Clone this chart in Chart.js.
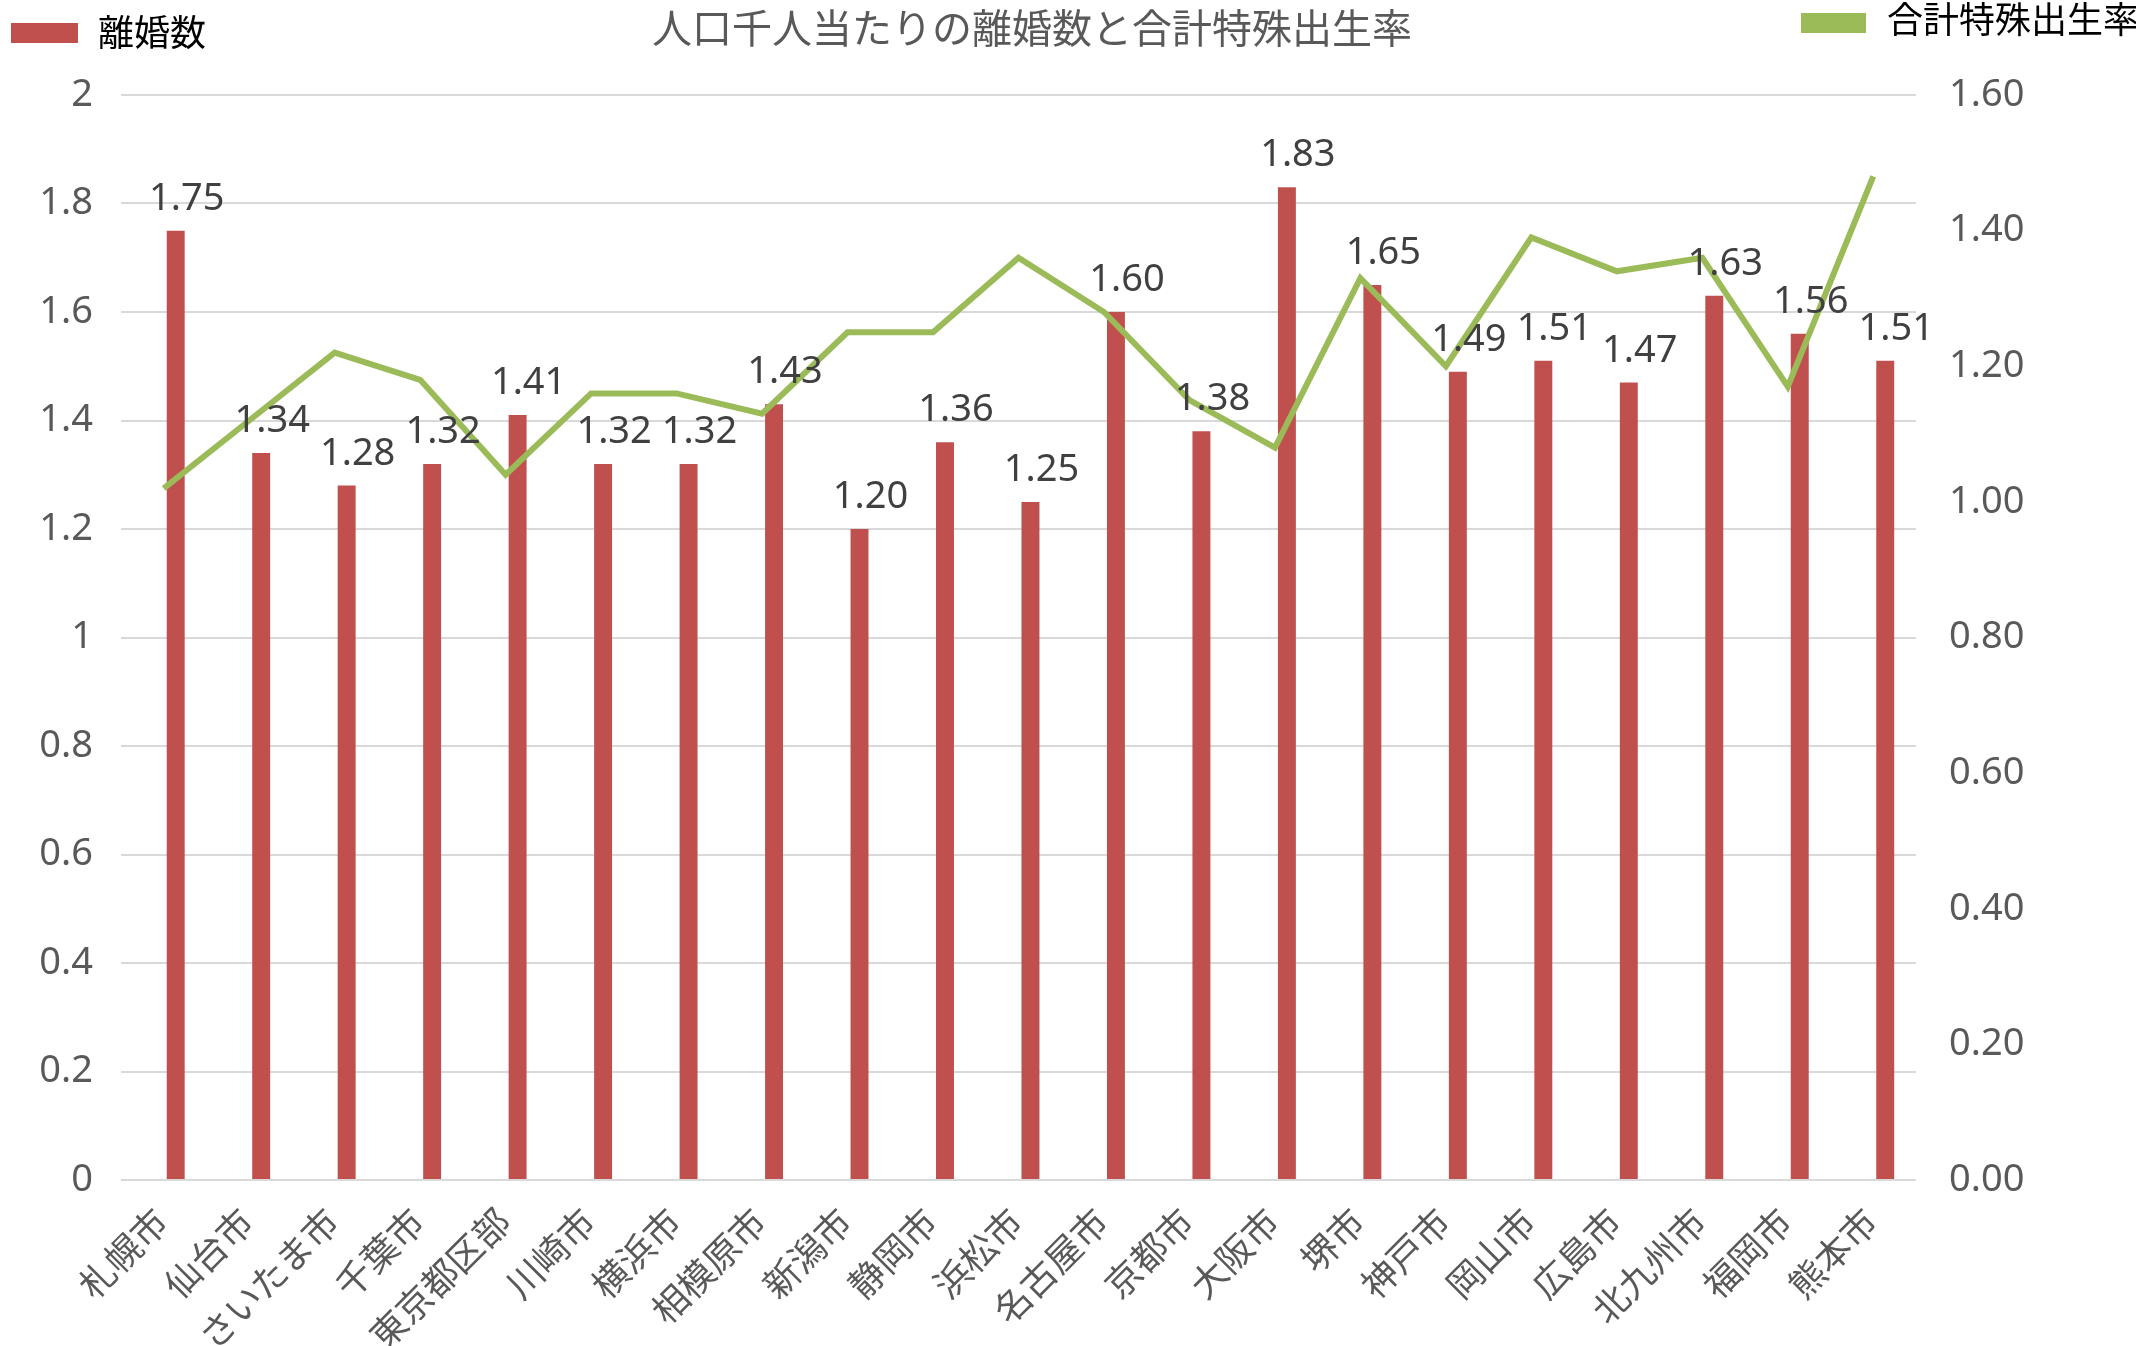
<!DOCTYPE html>
<html lang="ja">
<head>
<meta charset="utf-8">
<title>人口千人当たりの離婚数と合計特殊出生率</title>
<script src="https://cdn.jsdelivr.net/npm/chart.js@4/dist/chart.umd.min.js"></script>
<style>
  html, body { margin: 0; padding: 0; background: #fff; }
  #wrap { width: 2136px; height: 1346px; }
</style>
</head>
<body>
<div id="wrap"><canvas id="c" width="2136" height="1346"></canvas></div>
<script>
const cities = ["札幌市", "仙台市", "さいたま市", "千葉市", "東京都区部", "川崎市", "横浜市", "相模原市", "新潟市", "静岡市", "浜松市",
  "名古屋市", "京都市", "大阪市", "堺市", "神戸市", "岡山市", "広島市", "北九州市", "福岡市", "熊本市"];
const divorces = [1.75, 1.34, 1.28, 1.32, 1.41, 1.32, 1.32, 1.43, 1.20, 1.36, 1.25,
  1.60, 1.38, 1.83, 1.65, 1.49, 1.51, 1.47, 1.63, 1.56, 1.51];
const fertility = [1.02, 1.12, 1.22, 1.18, 1.04, 1.16, 1.16, 1.13, 1.25, 1.25, 1.36,
  1.28, 1.15, 1.08, 1.33, 1.20, 1.39, 1.34, 1.36, 1.17, 1.48];
const leftTicks = { min: 0, max: 2, step: 0.2 };
const rightTicks = { min: 0, max: 1.6, step: 0.2 };

const TITLE = "人口千人当たりの離婚数と合計特殊出生率";
const FONT = "'Noto Sans', 'Noto Sans CJK JP', sans-serif";
const RED = "#C0504D";
const GREEN = "#9BBB59";
const GREY = "#595959";

// title, split legend and value labels over the bars
const decor = {
  id: "decor",
  afterDatasetsDraw(chart) {
    const ctx = chart.ctx;
    ctx.save();
    ctx.font = "38px " + FONT;
    ctx.fillStyle = "#404040";
    ctx.textAlign = "center";
    ctx.textBaseline = "alphabetic";
    const meta = chart.getDatasetMeta(2);
    meta.data.forEach((bar, i) => {
      ctx.fillText(divorces[i].toFixed(2), bar.x + 11, bar.y - 21);
    });

    ctx.font = "40px " + FONT;
    ctx.fillStyle = GREY;
    ctx.textBaseline = "middle";
    ctx.fillText(TITLE, 1032, 32);

    ctx.font = "36px " + FONT;
    ctx.textAlign = "left";
    ctx.fillStyle = RED;
    ctx.fillRect(11, 23, 67, 20);
    ctx.fillStyle = "#000";
    ctx.fillText("離婚数", 98, 36);

    ctx.fillStyle = GREEN;
    ctx.fillRect(1801, 13, 65, 20);
    ctx.fillStyle = "#000";
    ctx.fillText("合計特殊出生率", 1887, 23);
    ctx.restore();
  }
};

new Chart(document.getElementById("c"), {
  data: {
    labels: cities,
    datasets: [
      { type: "line", label: "合計特殊出生率", data: fertility, yAxisID: "y1",
        borderColor: GREEN, borderWidth: 6, pointRadius: 0, tension: 0, order: 0 },
      // empty slot so the bars sit right of the category centre, as in the original
      { type: "bar", label: "", data: [], yAxisID: "y",
        categoryPercentage: 0.56, barPercentage: 0.75, order: 1 },
      { type: "bar", label: "離婚数", data: divorces, yAxisID: "y",
        backgroundColor: RED, categoryPercentage: 0.56, barPercentage: 0.75, order: 2 },
    ],
  },
  options: {
    responsive: false,
    animation: false,
    devicePixelRatio: 1,
    layout: { padding: { top: 95, left: 0, right: 0, bottom: 0 } },
    plugins: { legend: { display: false }, title: { display: false }, tooltip: { enabled: false } },
    scales: {
      x: {
        grid: { display: false },
        border: { display: false },
        ticks: { font: { size: 36, family: FONT }, color: GREY, minRotation: 45, maxRotation: 45, autoSkip: false, padding: 14 },
        afterFit: s => { s.height = 166; },
      },
      y: {
        position: "left",
        min: leftTicks.min, max: leftTicks.max,
        grid: { color: "#D9D9D9", lineWidth: 2, drawTicks: false },
        border: { display: false },
        ticks: { stepSize: leftTicks.step, font: { size: 38, family: FONT }, color: GREY, padding: 28,
          callback: v => String(Number(v.toFixed(1))) },
        afterFit: s => { s.width = 121; },
      },
      y1: {
        position: "right",
        min: rightTicks.min, max: rightTicks.max,
        grid: { display: false },
        border: { display: false },
        ticks: { stepSize: rightTicks.step, font: { size: 38, family: FONT }, color: GREY, padding: 25,
          callback: v => v.toFixed(2) },
        afterFit: s => { s.width = 220; },
      },
    },
  },
  plugins: [decor],
});
</script>
</body>
</html>
